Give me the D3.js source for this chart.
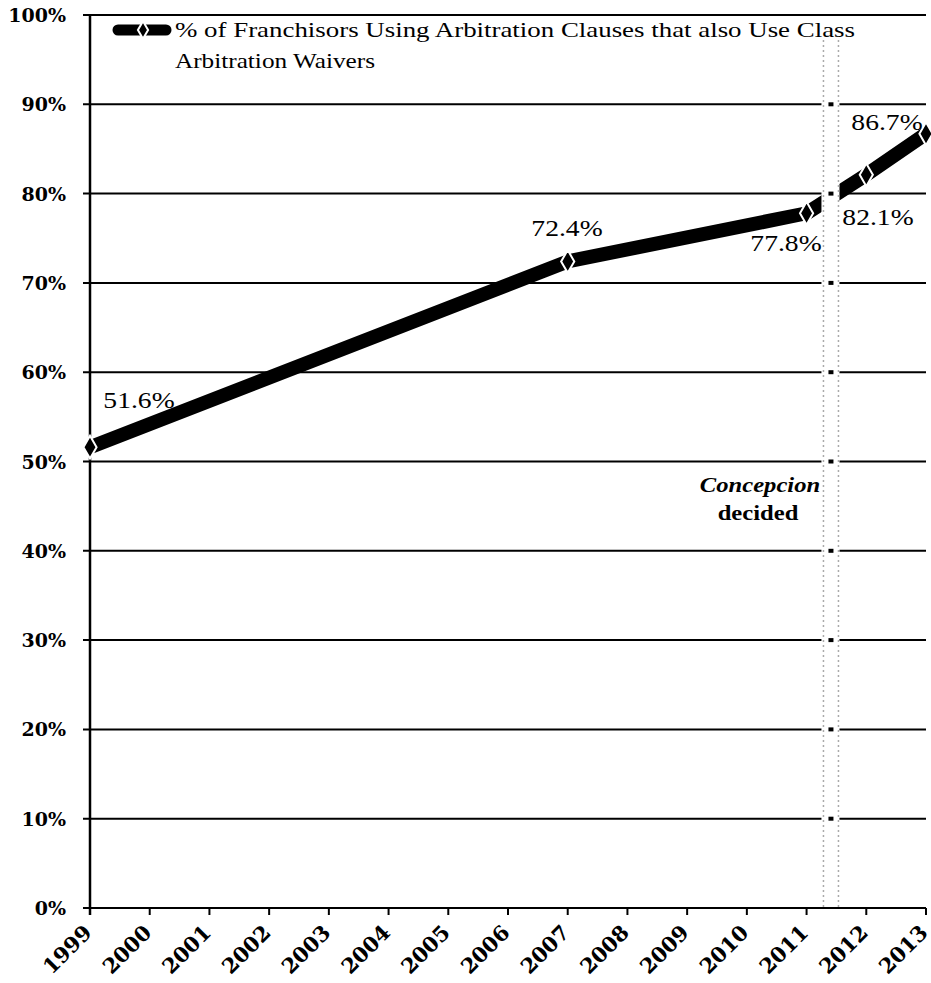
<!DOCTYPE html>
<html><head><meta charset="utf-8">
<script src="https://cdn.jsdelivr.net/npm/d3@7"></script>
<style>body{margin:0;background:#fff}</style>
</head><body>
<svg id="c" width="931" height="983"></svg>
<script>
const years = [1999,2000,2001,2002,2003,2004,2005,2006,2007,2008,2009,2010,2011,2012,2013];
const dataYears = [1999,2007,2011,2012,2013];
const dataValues = [51.6,72.4,77.8,82.1,86.7];
const dataLabels = ["51.6%","72.4%","77.8%","82.1%","86.7%"];
const yTicks = [0,10,20,30,40,50,60,70,80,90,100];
const legendLines = ["% of Franchisors Using Arbitration Clauses that also Use Class","Arbitration Waivers"];
const eventYear = 2011.4;

const svg = d3.select("#c");
const x = d3.scaleLinear().domain([1999,2013]).range([90,926]);
const y = d3.scaleLinear().domain([0,100]).range([908,15]);
const serif = "'Liberation Serif','Times New Roman',serif";
const wide = "'DejaVu Serif',serif";

// gridlines
svg.append("g").selectAll("line").data(yTicks).join("line")
  .attr("x1",83).attr("x2",926).attr("y1",d=>y(d)).attr("y2",d=>y(d))
  .attr("stroke","#000").attr("stroke-width",2);
// left axis
svg.append("line").attr("x1",90).attr("x2",90).attr("y1",y(100)).attr("y2",915)
  .attr("stroke","#000").attr("stroke-width",2.5);
// x ticks
svg.append("g").selectAll("line").data(years).join("line")
  .attr("x1",d=>x(d)).attr("x2",d=>x(d)).attr("y1",908).attr("y2",915)
  .attr("stroke","#000").attr("stroke-width",2);
// y labels
svg.append("g").selectAll("text").data(yTicks).join("text")
  .attr("x",66).attr("y",d=>y(d)+7).attr("text-anchor","end")
  .attr("font-family",wide).attr("font-weight","bold").attr("font-size",19)
  .text(d=>d+"%");
// x labels
svg.append("g").selectAll("text").data(years).join("text")
  .attr("transform",d=>`translate(${x(d)+3},${934}) rotate(-45)`)
  .attr("text-anchor","end")
  .attr("font-family",wide).attr("font-weight","bold").attr("font-size",21)
  .text(d=>d);

// data line
const pts = dataYears.map((d,i)=>[d,dataValues[i]]);
svg.append("path").datum(pts)
  .attr("d",d3.line().x(d=>x(d[0])).y(d=>y(d[1])))
  .attr("fill","none").attr("stroke","#000").attr("stroke-width",14)
  .attr("stroke-linejoin","round");
// markers
const sym = d3.symbol().type(d3.symbolDiamond).size(150);
svg.append("g").selectAll("path").data(pts).join("path")
  .attr("transform",d=>`translate(${x(d[0])},${y(d[1])})`)
  .attr("d",sym).attr("fill","#000").attr("stroke","#fff").attr("stroke-width",2);

// event band
const ex = x(eventYear);
svg.append("rect").attr("x",ex-9).attr("y",40).attr("width",18).attr("height",907-40)
  .attr("fill","#fff");
[ex-7, ex+8].forEach(xx=>{
  svg.append("line").attr("x1",xx).attr("x2",xx).attr("y1",40).attr("y2",907)
    .attr("stroke","#aaa").attr("stroke-width",1.5).attr("stroke-dasharray","2,3");
});
svg.append("g").selectAll("rect").data(yTicks.filter(d=>d>0&&d<100)).join("rect")
  .attr("x",ex-2).attr("y",d=>y(d)-2).attr("width",5).attr("height",4).attr("fill","#000");

// data labels
const labelPos = [[139,408],[567,236],[786,251],[878,225],[887,130]];
svg.append("g").selectAll("text").data(dataLabels).join("text")
  .attr("transform",(d,i)=>`translate(${labelPos[i][0]},${labelPos[i][1]}) scale(1.15,1)`)
  .attr("text-anchor","middle").attr("font-family",serif).attr("font-size",24)
  .text(d=>d);

// event text
svg.append("text").attr("transform","translate(760,492) scale(1.12,1)").attr("text-anchor","middle")
  .attr("font-family",serif).attr("font-weight","bold").attr("font-style","italic").attr("font-size",22)
  .text("Concepcion");
svg.append("text").attr("transform","translate(758,520) scale(1.12,1)").attr("text-anchor","middle")
  .attr("font-family",serif).attr("font-weight","bold").attr("font-size",22)
  .text("decided");

// legend
svg.append("line").attr("x1",118).attr("x2",166).attr("y1",30).attr("y2",30)
  .attr("stroke","#000").attr("stroke-width",11).attr("stroke-linecap","round");
svg.append("path").attr("transform","translate(143,30)").attr("d",d3.symbol().type(d3.symbolDiamond).size(90))
  .attr("fill","#000").attr("stroke","#fff").attr("stroke-width",2);
const legLen = [680,200];
svg.append("g").selectAll("text").data(legendLines).join("text")
  .attr("x",175).attr("y",(d,i)=>37+i*31)
  .attr("font-family",serif).attr("font-size",21)
  .attr("textLength",(d,i)=>legLen[i]).attr("lengthAdjust","spacingAndGlyphs")
  .text(d=>d);
</script>
</body></html>
